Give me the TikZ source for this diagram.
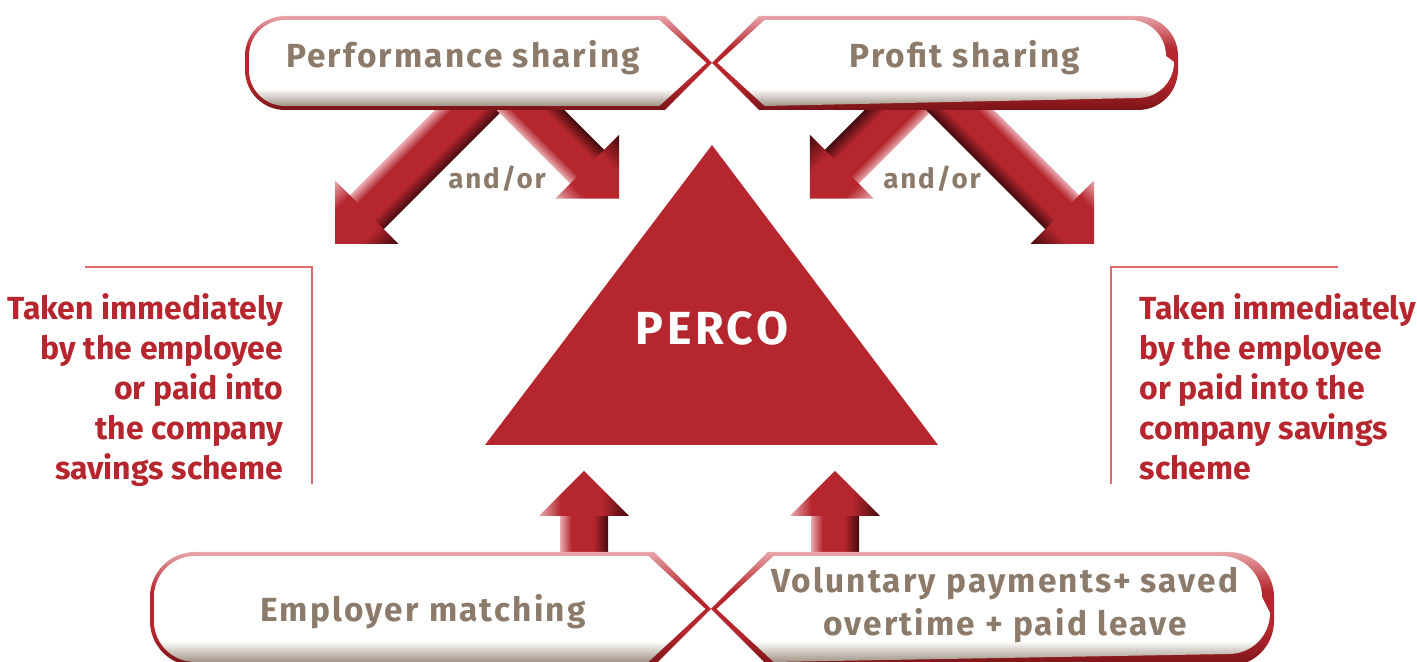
\documentclass[tikz,border=0pt]{standalone}
\usepackage{fontspec}
\setmainfont{Fira Sans}
\newfontfamily\percofont{Fira Sans}[LetterSpace=8]
\newfontfamily\boxfont{Fira Sans}[LetterSpace=6.5]

\definecolor{percored}{RGB}{181,38,46}
\definecolor{taupe}{RGB}{140,123,107}
\definecolor{arrowlight}{RGB}{232,172,177}
\definecolor{arrowdark}{RGB}{66,10,13}
\definecolor{rimpink}{RGB}{232,165,170}
\definecolor{rimdark}{RGB}{122,20,24}
\definecolor{padgray}{RGB}{160,147,133}
\definecolor{bracketred}{RGB}{222,105,113}

% shadings: tubes for the fat arrows, rim and pad for the boxes
\pgfdeclareverticalshading{tubeA}{100bp}{color(0bp)=(arrowlight); color(25bp)=(arrowlight);
  color(37bp)=(percored); color(60bp)=(percored); color(75bp)=(arrowdark); color(100bp)=(arrowdark)}
\pgfdeclareverticalshading{tubeB}{100bp}{color(0bp)=(arrowdark); color(25bp)=(arrowdark);
  color(40bp)=(percored); color(63bp)=(percored); color(75bp)=(arrowlight); color(100bp)=(arrowlight)}
\pgfdeclareverticalshading{rimshade}{100bp}{color(0bp)=(rimdark); color(25bp)=(rimdark);
  color(40bp)=(percored); color(58bp)=(percored); color(75bp)=(rimpink); color(100bp)=(rimpink)}
\pgfdeclareverticalshading{padshade}{100bp}{color(0bp)=(padgray); color(25bp)=(padgray);
  color(35bp)=(white); color(100bp)=(white)}

% box rounded on the left, pointed on the right: left x, tip x, top y, bottom y, radius, options
\newcommand{\pillL}[6]{%
  \path[#6] ({#2-(#4-#3)/2},#3) -- (#2,{(#3+#4)/2}) -- ({#2-(#4-#3)/2},#4)
    -- ({#1+#5},#4) arc[start angle=90,end angle=180,radius=#5]
    -- (#1,{#3+#5}) arc[start angle=180,end angle=270,radius=#5] -- cycle;}
% box pointed on the left, rounded on the right: right x, tip x, top y, bottom y, radius, options
\newcommand{\pillR}[6]{%
  \path[#6] (#2,{(#3+#4)/2}) -- ({#2+(#4-#3)/2},#3)
    -- ({#1-#5},#3) arc[start angle=270,end angle=360,radius=#5]
    -- (#1,{#4-#5}) arc[start angle=0,end angle=90,radius=#5]
    -- ({#2+(#4-#3)/2},#4) -- cycle;}
\newcommand{\boxL}[5]{%
  \pillL{#1}{#2}{#3}{#4}{#5}{shade,shading=rimshade}
  \pillL{#1+4}{#2-5.66}{#3+4}{#4-4}{#5-4}{shade,shading=padshade}}
\newcommand{\boxR}[5]{%
  \pillR{#1}{#2}{#3}{#4}{#5}{shade,shading=rimshade}
  \pillR{#1-4}{#2+5.66}{#3+4}{#4-4}{#5-4}{shade,shading=padshade}}
% fat arrow: tail x, tail y, angle, length, shading
\newcommand{\fatarrow}[5]{%
  \begin{scope}[transform canvas={shift={(#1,#2)},rotate=#3}]
    \shade[shading=#5] (0,-24) rectangle ({#4-44},24);
    \shade[shading=#5] ({#4-45},-45) -- (#4,0) -- ({#4-45},45) -- cycle;
  \end{scope}}

\tikzset{
  boxtext/.style={text=taupe, inner sep=0pt, align=center,
    font=\boxfont\fontsize{9.5}{12}\selectfont\bfseries},
  andor/.style={text=taupe, inner sep=0pt, font=\boxfont\fontsize{7.9}{10}\selectfont\bfseries},
  redtext/.style={text=percored, inner sep=0pt, font=\fontsize{9.1}{11.4}\selectfont\bfseries},
  bracket/.style={draw=bracketred, line width=0.45pt}
}

\begin{document}
\begin{tikzpicture}[x=0.01cm,y=-0.01cm]
  \useasboundingbox (0,0) rectangle (1417,662);
  \clip (0,0) rectangle (1417,662);
  % arrows out of the sharing boxes
  \fatarrow{504}{75}{225}{239}{tubeA}
  \fatarrow{495.5}{75}{-45}{174.7}{tubeA}
  \fatarrow{933.5}{75}{225}{174.7}{tubeB}
  \fatarrow{925}{75}{-45}{239}{tubeB}
  % arrows into the PERCO
  \fatarrow{584}{575}{90}{104}{tubeB}
  \fatarrow{835}{575}{90}{104}{tubeB}
  % boxes
  \boxL{245}{712}{16}{110}{40}
  \boxR{1178}{712}{16}{110}{40}
  \boxL{150}{711}{552}{666}{45}
  \boxR{1274}{711}{552}{666}{45}
  % PERCO triangle
  \fill[percored] (712,145) -- (938,445) -- (485,445) -- cycle;
  \node[text=white, inner sep=0pt, anchor=base, font=\percofont\fontsize{13.2}{16}\selectfont\bfseries]
    (perco) at (712,345) {PERCO};
  \node[boxtext, anchor=base] (perf) at (463,68) {Performance sharing};
  \node[boxtext, anchor=base] (profit) at (965,68) {Profit sharing};
  \node[boxtext, anchor=base] (employer) at (423,622) {Employer matching};
  \node[boxtext] (voluntary) at (1005,605) {Voluntary payments+ saved\\overtime + paid leave};
  \node[andor, anchor=base] (andorL) at (497,189) {and/or};
  \node[andor, anchor=base] (andorR) at (932,189) {and/or};
  % side notes
  \draw[bracket] (85,267) -- (312,267) -- (312,484);
  \draw[bracket] (1338,267) -- (1111,267) -- (1111,484);
  \node[redtext, anchor=east, align=right] (takenL) at (284,390)
    {Taken immediately\\by the employee\\or paid into\\the company\\savings scheme};
  \node[redtext, anchor=west, align=left] (takenR) at (1139,387)
    {Taken immediately\\by the employee\\or paid into the\\company savings\\scheme};
\end{tikzpicture}
\end{document}
